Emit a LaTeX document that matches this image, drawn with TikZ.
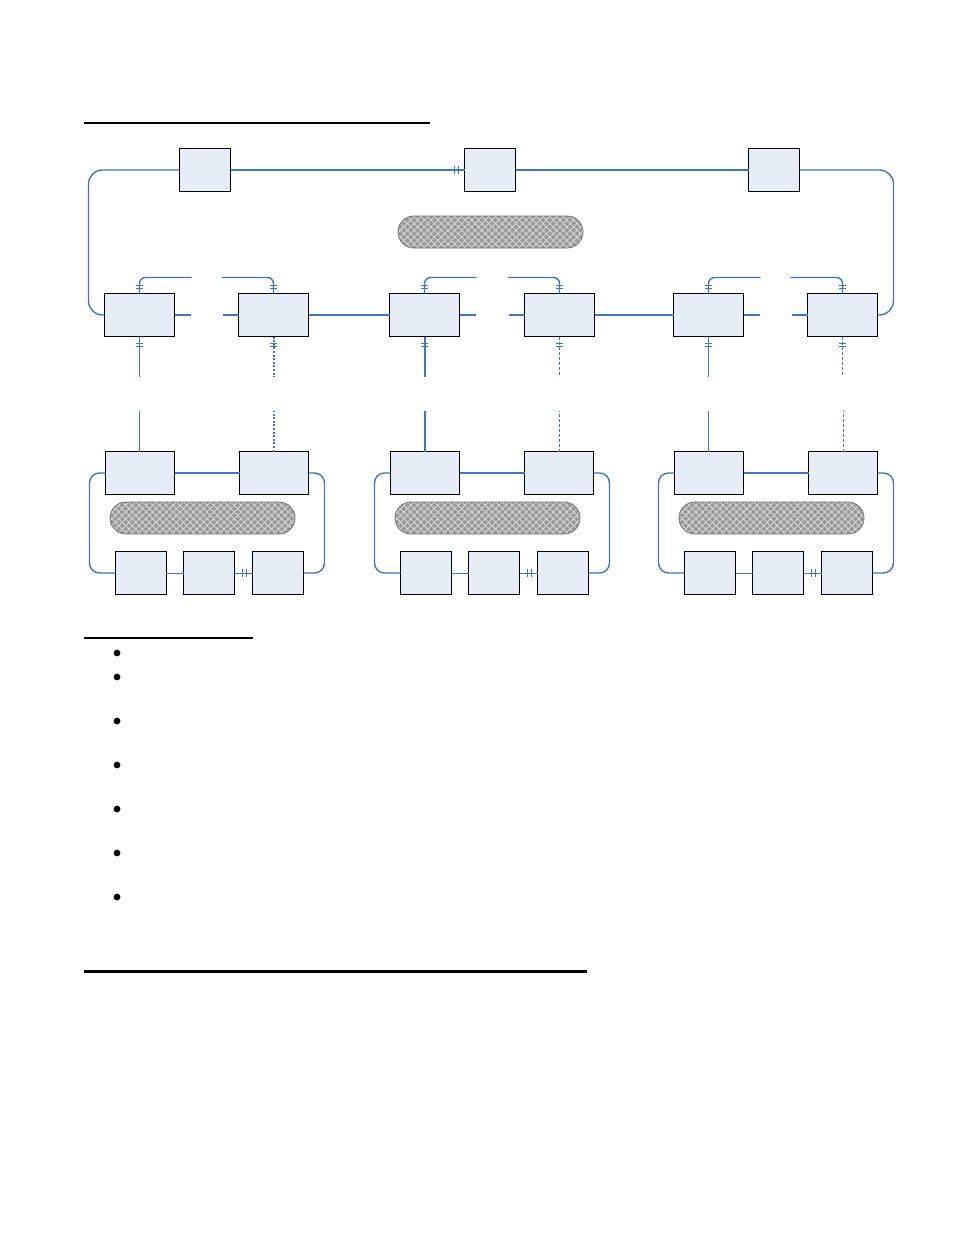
\documentclass[tikz,border=0pt]{standalone}
\usetikzlibrary{calc,patterns.meta}

\definecolor{boxfill}{RGB}{230,237,247}
\definecolor{linkblue}{RGB}{68,114,196}
\definecolor{pillgray}{RGB}{152,152,152}
\definecolor{hatchgray}{RGB}{214,214,214}

\tikzset{
    box/.style={draw=black, line width=1.2pt, fill=boxfill, inner sep=0pt, outer sep=0pt, minimum height=43pt},
    sqbox/.style={box, minimum width=51pt},
    widebox/.style={box, minimum width=70pt},
    pill/.style={draw=black!55, line width=0.8pt, rounded corners=16pt, minimum width=185pt, minimum height=32pt, inner sep=0pt,
        preaction={fill=pillgray},
        preaction={pattern={Lines[angle=45,distance=4.8pt,line width=0.9pt]}, pattern color=hatchgray},
        preaction={pattern={Lines[angle=-45,distance=4.8pt,line width=0.9pt]}, pattern color=hatchgray}},
    link/.style={linkblue, line width=2pt},
    heavylink/.style={linkblue, line width=2.6pt},
    ring/.style={linkblue, line width=1.4pt},
    thinlink/.style={linkblue, line width=1pt},
    thinstub/.style={linkblue, line width=1pt},
    thickstub/.style={linkblue, line width=2pt},
    dotstub/.style={linkblue, line width=2pt, dash pattern=on 2pt off 1.6pt},
    dashstub/.style={linkblue, line width=0.8pt, dash pattern=on 3pt off 2pt},
    tickline/.style={linkblue, line width=1pt},
    pics/vbar/.style={code={\draw[tickline] (-3.5,-1.65) -- (3.5,-1.65) (-3.5,1.65) -- (3.5,1.65);}},
    pics/hbar/.style={code={\draw[tickline] (-2,-3.6) -- (-2,3.6) (2,-3.6) -- (2,3.6);}},
}

\begin{document}
\begin{tikzpicture}[x=1pt, y=-1pt]
    \useasboundingbox (0,0) rectangle (954,1235);

    % Heading rule
    \draw[line width=2pt] (84,123) -- (430,123);

    % Top ring
    \node[sqbox] (t1) at (205,170) {};
    \node[sqbox] (t2) at (490,170) {};
    \node[sqbox] (t3) at (774,170) {};
    \node[pill] (core) at (490.5,232) {};

    % Middle row
    \foreach \n/\x in {1/139.5, 2/273.5, 3/424.5, 4/559.5, 5/708.5, 6/842.5}
        \node[widebox] (m\n) at (\x,315) {};

    \draw[link] (t1) -- (t2);
    \pic at ($(t2.west)+(-8.5,0)$) {hbar};
    \draw[link] (t2) -- (t3);
    \draw[ring, rounded corners=14pt] (t1.west) -| ($(m1.west)+(-16,0)$) -- (m1.west);
    \draw[ring, rounded corners=14pt] (t3.east) -| ($(m6.east)+(16,0)$) -- (m6.east);

    % Links along the middle row
    \draw[heavylink] (m2) -- (m3);
    \draw[heavylink] (m4) -- (m5);
    \foreach \a/\b in {1/2, 3/4, 5/6} {
        \draw[heavylink] (m\a.east) -- ++(16,0);
        \draw[heavylink] (m\b.west) -- ++(-16,0);
        \draw[ring, rounded corners=6pt] (m\a.north) |- ++(52,-16);
        \draw[ring, rounded corners=6pt] (m\b.north) |- ++(-52,-16);
    }

    % Drops below the middle row
    \foreach \n/\s in {1/thinstub, 2/dotstub, 3/thickstub, 4/dashstub, 5/thinstub, 6/dashstub} {
        \draw[\s] (m\n.south) -- ++(0,40);
        \pic at ($(m\n.north)+(0,-6.6)$) {vbar};
        \pic at ($(m\n.south)+(0,8.2)$) {vbar};
    }

    % Lower rings
    \foreach \c/\dx/\ls/\rs in {1/0/thinstub/dotstub, 2/285/thickstub/dashstub, 3/569/thinstub/dashstub} {
        \node[box, minimum width=69pt] (ul\c) at (140+\dx,473) {};
        \node[box, minimum width=69pt] (ur\c) at (274+\dx,473) {};
        \node[pill] (pill\c) at (202.5+\dx,518) {};
        \node[sqbox] (bl\c) at (141+\dx,573) {};
        \node[sqbox] (bm\c) at (209+\dx,573) {};
        \node[sqbox] (br\c) at (278+\dx,573) {};

        \draw[\ls] (ul\c.north) ++(-0.5,0) -- ++(0,-41);
        \draw[\rs] (ur\c.north) -- ++(0,-41);
        \draw[link] (ul\c) -- (ur\c);
        \draw[thinlink] (bl\c) -- (bm\c);
        \draw[thinlink] (bm\c) -- (br\c);
        \pic at ($(br\c.west)+(-8.5,0)$) {hbar};
        \draw[ring, rounded corners=10pt] (ul\c.west) -- ++(-16,0) |- (bl\c.west);
        \draw[ring, rounded corners=10pt] (ur\c.east) -- ++(16,0) |- (br\c.east);
    }

    % Notes
    \draw[line width=1.3pt] (84,638) -- (253,638);
    \foreach \y in {653,677,721,765,809,853,897}
        \fill (117,\y) circle (3.4);
    \draw[line width=3pt] (84,971) -- (587,971);
\end{tikzpicture}
\end{document}
